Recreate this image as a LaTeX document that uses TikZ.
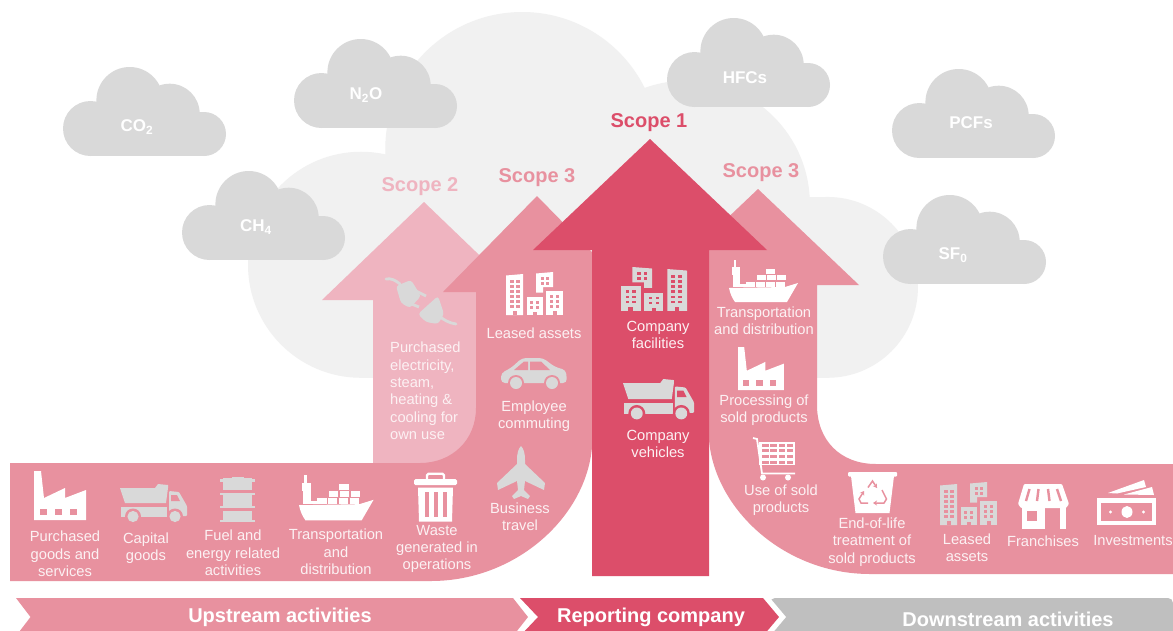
\documentclass[tikz,border=0pt]{standalone}
\usepackage{fontspec}
\setmainfont{Liberation Sans}
\usetikzlibrary{arrows.meta}
\definecolor{bigcloud}{HTML}{F1F1F1}
\definecolor{gascloud}{HTML}{D9D9D9}
\definecolor{scopeone}{HTML}{DC4E6A}
\definecolor{scopetwo}{HTML}{EFB4C0}
\definecolor{scopethree}{HTML}{E8919F}
\definecolor{downgrey}{HTML}{BFBFBF}
\definecolor{icongrey}{HTML}{D9D9D9}
\definecolor{labelwhite}{HTML}{FCF1F3}
\tikzset{
  iconfg/.store in=\iconfgcol, iconfg=white,
  iconbg/.store in=\iconbgcol, iconbg=scopethree,
  fgf/.style={fill=\iconfgcol},
  bgf/.style={fill=\iconbgcol},
  fgd/.style={draw=\iconfgcol},
  bgd/.style={draw=\iconbgcol},
  lbl/.style={font=\fontsize{14.7}{17.4}\selectfont,text=labelwhite,align=center,inner sep=0pt},
  scopelbl/.style={font=\fontsize{20}{22}\selectfont\bfseries,inner sep=0pt},
  gaslbl/.style={font=\fontsize{17}{18}\selectfont\bfseries,text=white,inner sep=0pt},
  barlbl/.style={font=\fontsize{20}{22}\selectfont\bfseries,text=white,inner sep=0pt},
  whiteonband/.style={iconfg=white,iconbg=scopethree},
  greyonband/.style={iconfg=icongrey,iconbg=scopethree},
  greyonred/.style={iconfg=icongrey,iconbg=scopeone},
  cloudshape/.pic={
    \fill[pic actions] (27.5,61.5) circle (27.5);
    \fill[pic actions] (66.7,33.3) circle (33.3);
    \fill[pic actions] (106.7,46.7) circle (30);
    \fill[pic actions] (141,67) circle (22);
    \fill[pic actions] (27.5,45) rectangle (141,89);
  },
  factory/.pic={
    \fill[fgf] (0,0) -- (7,0) -- (10,27) -- (31,17) -- (31,27) -- (52,19) -- (52,49) -- (0,49) -- cycle;
    \foreach \wx in {6,21,36}{\fill[bgf] (\wx,38) rectangle (\wx+7,44);}
  },
  truck/.pic={
    \fill[fgf] (0,4) -- (35,4) -- (38,0) -- (48,1) -- (48,4) -- (46,19) -- (5,19) -- cycle;
    \fill[fgf] (1,23) -- (47,23) -- (47,33) -- (1,33) -- cycle;
    \fill[fgf,rounded corners=1pt] (49,7) -- (59,8) -- (67,22) -- (67,32) -- (49,32) -- cycle;
    \fill[bgf] (51,11) -- (57,11) -- (60,17) -- (51,17) -- cycle;
    \fill[bgf] (13,32.5) circle (8);
    \fill[bgf] (55,32.5) circle (8);
    \fill[fgf] (13,32.5) circle (5.6);
    \fill[fgf] (55,32.5) circle (5.6);
  },
  barrel/.pic={
    \fill[fgf] (12,0) rectangle (24,3);
    \fill[fgf] (3,1) rectangle (32,13);
    \fill[fgf] (0,2) rectangle (35,4.5);
    \fill[fgf] (3,16.5) rectangle (32,31);
    \fill[fgf] (0,16) rectangle (35,18);
    \fill[fgf] (0,29) rectangle (35,31);
    \fill[fgf] (3,33.5) rectangle (32,45);
    \fill[fgf] (0,43) rectangle (35,45);
  },
  cargoship/.pic={
    \fill[fgf] (0,28) -- (56,27) -- (69,23) -- (58,42) -- (6,42) .. controls (3,38) and (1,33) .. cycle;
    \fill[fgf] (5,0) rectangle (7,9);
    \fill[fgf] (2.5,7) rectangle (11,15);
    \fill[fgf] (4,15) rectangle (11,27);
    \fill[fgf] (10,24) rectangle (18,27);
    \foreach \cx in {17,27,37,47}{\fill[fgf] (\cx,21.5) rectangle (\cx+8.5,27);}
    \foreach \cx in {28,38,48}{\fill[fgf] (\cx,15) rectangle (\cx+8.5,20);}
    \fill[fgf] (37,8.5) rectangle (46,13.8);
  },
  trashcan/.pic={
    \draw[fgd,line width=2.2pt,rounded corners=1.5pt] (13,8) -- (13,1.2) -- (30,1.2) -- (30,8);
    \fill[fgf,rounded corners=1.5pt] (0,6.5) rectangle (43,12.5);
    \fill[fgf] (4,15) -- (39,15) -- (38,49) -- (5,49) -- cycle;
    \foreach \sx in {10.5,19.5,28.5}{\fill[bgf] (\sx,19) rectangle (\sx+4,44);}
  },
  plane/.pic={
    \fill[fgf] (24,0) .. controls (27,3) and (28,8) .. (28,14) -- (28,18) -- (48,37) -- (47,44) -- (28,35) -- (27,44) -- (33,50) -- (31,53) -- (24,50) -- (17,53) -- (15,50) -- (21,44) -- (20,35) -- (1,44) -- (0,37) -- (20,18) -- (20,14) .. controls (20,8) and (21,3) .. cycle;
  },
  buildings/.pic={
    \fill[fgf] (0,3.5) -- (17,2) -- (17,43) -- (0,43) -- cycle;
    \fill[fgf] (30,1.5) -- (47,0) -- (47,15) -- (37,15) -- (37,20.5) -- (30,20.5) -- cycle;
    \fill[fgf] (20.5,25) rectangle (37,43);
    \fill[fgf] (40,18.5) rectangle (57,43);
    \foreach \wy in {8,13,18,23,28,33}{\fill[bgf] (4,\wy) rectangle (7.5,\wy+2.6); \fill[bgf] (10,\wy) rectangle (13.5,\wy+2.6);}
    \foreach \wy in {5,10}{\fill[bgf] (34.5,\wy) rectangle (37.5,\wy+2.6); \fill[bgf] (40,\wy) rectangle (43,\wy+2.6);}
    \foreach \wy in {29,34}{\fill[bgf] (24,\wy) rectangle (27,\wy+2.6); \fill[bgf] (30,\wy) rectangle (33,\wy+2.6);}
    \foreach \wy in {23,28,33}{\fill[bgf] (44,\wy) rectangle (47,\wy+2.6); \fill[bgf] (50,\wy) rectangle (53,\wy+2.6);}
    \fill[bgf] (6.5,39) rectangle (10.5,43);
    \fill[bgf] (26.5,40) rectangle (30.5,43);
    \fill[bgf] (46.5,39) rectangle (50.5,43);
  },
  car/.pic={
    \fill[fgf,rounded corners=4pt] (0,25) -- (0,15) -- (10,10) -- (21,0) -- (42,0) -- (54,9) -- (65,12) -- (66,25) -- cycle;
    \fill[bgf] (13,12) -- (23,3.5) -- (27,3.5) -- (27,12) -- cycle;
    \fill[bgf] (29,3.5) -- (40,3.5) -- (49,12) -- (29,12) -- cycle;
    \fill[bgf] (15,25) circle (8);
    \fill[bgf] (51,25) circle (8);
    \fill[fgf] (15,25) circle (6);
    \fill[fgf] (51,25) circle (6);
  },
  plugset/.pic={
    \draw[fgd,line width=2.8pt,line cap=round] (1,1) .. controls (6,0) and (10,2) .. (15,6);
    \fill[fgf,rounded corners=3pt] (11,8) -- (26,2) -- (36,18) -- (25,30) -- (16,25) -- cycle;
    \draw[fgd,line width=2.8pt] (31,13) -- (41,18);
    \draw[fgd,line width=2.8pt] (24,25) -- (34,29);
    \fill[fgf,rounded corners=3pt] (53,18) -- (33,36) -- (41,44) -- (53,46) -- (59,36) -- cycle;
    \draw[fgd,line width=2.8pt,line cap=round] (54,38) .. controls (59,42) and (64,45) .. (71,46);
  },
  shopcart/.pic={
    \draw[fgd,line width=1.8pt] (0,1) -- (4,2) -- (9,36.5) -- (42,36.5);
    \fill[fgf] (6,5) rectangle (42,28);
    \foreach \gy in {5,10.8,16.5,22.2}{\fill[bgf] (9,\gy+1.5) rectangle (15.5,\gy+4.6); \fill[bgf] (17,\gy+1.5) rectangle (24,\gy+4.6); \fill[bgf] (25.5,\gy+1.5) rectangle (32,\gy+4.6); \fill[bgf] (33.5,\gy+1.5) rectangle (40,\gy+4.6);}
    \fill[fgf] (10,40.5) circle (3);
    \fill[fgf] (35,40.5) circle (3);
  },
  recyclebin/.pic={
    \fill[fgf,rounded corners=1pt] (0,0) rectangle (49,4.5);
    \fill[fgf] (3,4) -- (46,4) -- (41.5,41) -- (7.5,41) -- cycle;
    \draw[bgd,line width=1.5pt,-{Stealth[length=4pt,width=5pt]}] (20,15.5) -- (24.5,9) -- (29,16);
    \draw[bgd,line width=1.5pt,-{Stealth[length=4pt,width=5pt]}] (34,18) -- (38.5,27) -- (36,31) -- (25,31);
    \draw[bgd,line width=1.5pt,-{Stealth[length=4pt,width=5pt]}] (20,31) -- (13,31) -- (11,27) -- (16,19);
  },
  storefront/.pic={
    \fill[fgf,rounded corners=1pt] (6,0) -- (44,0) -- (51,20) -- (48,24) -- (3,24) -- (0,20) -- cycle;
    \draw[bgd,line width=2.4pt] (11.5,5) -- (8,17);
    \draw[bgd,line width=2.4pt] (20.5,5) -- (19,17);
    \draw[bgd,line width=2.4pt] (30,5) -- (31.5,17);
    \draw[bgd,line width=2.4pt] (39,5) -- (43,17);
    \fill[fgf] (4,22) rectangle (27,45);
    \fill[fgf] (42,22) rectangle (48,45);
    \fill[bgf] (9,27) rectangle (19,37);
    \fill[bgf] (27,26) rectangle (42,45);
  },
  moneybills/.pic={
    \fill[fgf] (0,18) rectangle (59,45);
    \fill[bgf] (4,23) rectangle (55,40.5);
    \fill[fgf] (30,32) ellipse (5.5 and 6);
    \fill[fgf] (13.5,32) circle (1.7);
    \fill[fgf] (46.5,32) circle (1.7);
    \fill[fgf] (11,13) -- (47,0) -- (49,7) -- (20,13.5) -- cycle;
    \fill[fgf] (27,14.5) -- (55,7) -- (57,15) -- cycle;
  }
}
\begin{document}
\begin{tikzpicture}[x=1pt,y=-1pt]
\useasboundingbox (0,0) rectangle (1173,630);
\clip (0,0) rectangle (1173,630);
\fill[white] (0,0) rectangle (1173,630);
% clouds
\pic[fill=bigcloud,scale=4.11] at (248,12) {cloudshape};
\pic[fill=gascloud] at (63,67) {cloudshape};
\pic[fill=gascloud] at (294,39) {cloudshape};
\pic[fill=gascloud] at (182,171) {cloudshape};
\pic[fill=gascloud] at (667,18) {cloudshape};
\pic[fill=gascloud] at (892,69) {cloudshape};
\pic[fill=gascloud] at (883,195) {cloudshape};
\node[gaslbl] (co2) at (137,127) {CO\textsubscript{2}};
\node[gaslbl] (n2o) at (366,95) {N\textsubscript{2}O};
\node[gaslbl] (ch4) at (256,227) {CH\textsubscript{4}};
\node[gaslbl] (hfcs) at (745,78) {HFCs};
\node[gaslbl] (pcfs) at (971,123) {PCFs};
\node[gaslbl] (sf6) at (953,255) {SF\textsubscript{0}};
% arrows
\fill[scopetwo] (424,202) -- (526,300) -- (476,300) -- (476,463) -- (373,463) -- (373,300) -- (322,300) -- cycle;
\fill[scopethree] (537,196) -- (631,292) -- (592,292) -- (592,447) .. controls (586,517) and (516,581) .. (431,581) -- (10,581) -- (10,463) -- (420,463) .. controls (452,463) and (476,440) .. (476,408) -- (476,292) -- (443,292) -- cycle;
\fill[scopethree] (758,189) -- (859,285) -- (817,285) -- (817,405) .. controls (817,440) and (840,464) .. (876,464) -- (1173,464) -- (1173,574) -- (870,574) .. controls (785,574) and (715,510) .. (709,440) -- (709,285) -- (657,285) -- cycle;
\fill[scopeone] (650,139) -- (767,250) -- (709,250) -- (709,576) -- (592,576) -- (592,250) -- (533,250) -- cycle;
% scope labels
\node[scopelbl,text=scopeone] (s1) at (649,122.5) {Scope 1};
\node[scopelbl,text=scopetwo] (s2) at (420,186.5) {Scope 2};
\node[scopelbl,text=scopethree] (s3a) at (537,177.5) {Scope 3};
\node[scopelbl,text=scopethree] (s3b) at (761,172.5) {Scope 3};
% icons
\pic[whiteonband] at (34,471) {factory};
\pic[greyonband] at (120,484) {truck};
\pic[greyonband] at (220,477) {barrel};
\pic[whiteonband,scale=1.08] at (299,475) {cargoship};
\pic[whiteonband] at (414,472.5) {trashcan};
\pic[greyonband] at (497,446) {plane};
\pic[greyonband,iconbg=scopetwo] at (385,278) {plugset};
\pic[whiteonband] at (506,272) {buildings};
\pic[greyonband] at (501,358) {car};
\pic[greyonred,xscale=-1.16,yscale=1.02] at (687,267) {buildings};
\pic[greyonred,scale=1.06] at (623,379) {truck};
\pic[whiteonband] at (729,260) {cargoship};
\pic[whiteonband,scale=.88] at (738,347) {factory};
\pic[whiteonband] at (753,437) {shopcart};
\pic[whiteonband] at (848,472) {recyclebin};
\pic[greyonband] at (940,482) {buildings};
\pic[whiteonband] at (1018,484) {storefront};
\pic[whiteonband] at (1097,480) {moneybills};
% labels
\node[lbl] (t1) at (65,554) {Purchased\\goods and\\services};
\node[lbl] (t2) at (146,548) {Capital\\goods};
\node[lbl] (t3) at (233,553) {Fuel and\\energy related\\activities};
\node[lbl] (t4) at (336,552) {Transportation\\and\\distribution};
\node[lbl] (t5) at (437,549) {Waste\\generated in\\operations};
\node[lbl] (t6) at (520,517) {Business\\travel};
\node[lbl,align=left,anchor=west] (t7) at (390,391) {Purchased\\electricity,\\steam,\\heating \&\\cooling for\\own use};
\node[lbl] (t8) at (534,333) {Leased assets};
\node[lbl] (t9) at (534,416) {Employee\\commuting};
\node[lbl] (t10) at (658,335) {Company\\facilities};
\node[lbl] (t11) at (658,444) {Company\\vehicles};
\node[lbl] (t12) at (764,321) {Transportation\\and distribution};
\node[lbl] (t13) at (764,410) {Processing of\\sold products};
\node[lbl] (t14) at (781,500) {Use of sold\\products};
\node[lbl] (t15) at (872,542) {End-of-life\\treatment of\\sold products};
\node[lbl] (t16) at (967,548) {Leased\\assets};
\node[lbl] (t17) at (1043,541) {Franchises};
\node[lbl] (t18) at (1133,541) {Investments};
% bottom bars
\fill[downgrey,rounded corners=5pt] (770,598) -- (1173,598) -- (1173,640) -- (770,640) -- cycle;
\fill[white] (760,590) -- (770,590) -- (770,598) -- (786,617) -- (770,636) -- (770,645) -- (760,645) -- cycle;
\fill[scopethree] (16,598) -- (513,598) -- (528,617) -- (513,636) -- (16,636) -- (30.5,617) -- cycle;
\fill[scopeone] (520,598) -- (763,598) -- (779,617) -- (763,636) -- (520,636) -- (538,617) -- cycle;
\node[barlbl] (up) at (280,617) {Upstream activities};
\node[barlbl] (rep) at (651,617) {Reporting company};
\node[barlbl] (down) at (1008,619) {Downstream activities};
\end{tikzpicture}
\end{document}
